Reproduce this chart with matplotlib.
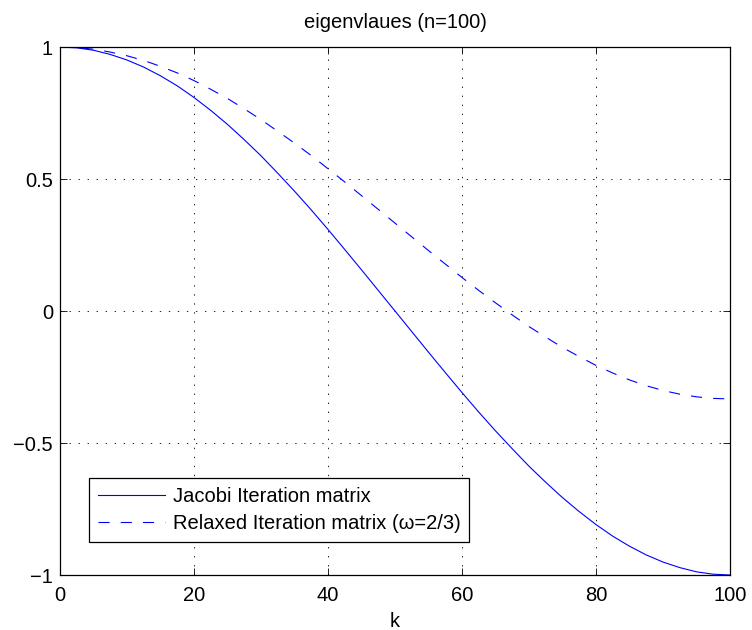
import matplotlib
matplotlib.use("Agg")
import matplotlib.pyplot as plt

# k values and eigenvalues
k = [0, 2.5, 5, 7.5, 10, 12.5, 15, 17.5, 20, 22.5, 25, 27.5, 30, 32.5, 35, 37.5, 40,
     42.5, 45, 47.5, 50, 52.5, 55, 57.5, 60, 62.5, 65, 67.5, 70, 72.5, 75, 77.5, 80,
     82.5, 85, 87.5, 90, 92.5, 95, 97.5, 100]
jacobi = [1.000, 0.997, 0.988, 0.972, 0.951, 0.924, 0.891, 0.853, 0.809, 0.760, 0.707,
          0.649, 0.588, 0.522, 0.454, 0.383, 0.309, 0.233, 0.156, 0.078, 0.000,
          -0.078, -0.156, -0.233, -0.309, -0.383, -0.454, -0.522, -0.588, -0.649, -0.707,
          -0.760, -0.809, -0.853, -0.891, -0.924, -0.951, -0.972, -0.988, -0.997, -1.000]
relaxed = [1.000, 0.998, 0.992, 0.981, 0.967, 0.949, 0.927, 0.902, 0.873, 0.840, 0.805,
           0.766, 0.725, 0.681, 0.636, 0.589, 0.539, 0.489, 0.437, 0.385, 0.333,
           0.281, 0.229, 0.178, 0.127, 0.078, 0.031, -0.015, -0.059, -0.099, -0.138,
           -0.173, -0.206, -0.235, -0.261, -0.283, -0.301, -0.315, -0.325, -0.331, -0.333]

xticks = [0, 20, 40, 60, 80, 100]
yticks = [-1, -0.5, 0, 0.5, 1]
ytick_labels = ['\u22121', '\u22120.5', '0', '0.5', '1']

plt.rcParams['font.family'] = ['Liberation Sans', 'DejaVu Sans']
plt.rcParams['lines.scale_dashes'] = False
FS = 14.5

fig = plt.figure(figsize=(7.52, 6.30), dpi=100)
ax = fig.add_axes([0.0798, 0.0873, 0.891, 0.838])

ax.plot(k, jacobi, color=(0, 0, 1), lw=0.8, label='Jacobi Iteration matrix')
ax.plot(k, relaxed, color=(0, 0, 1), lw=0.8, linestyle=(0, (8, 8)),
        label='Relaxed Iteration matrix (\u03c9=2/3)')

ax.set_xlim(0, 100)
ax.set_ylim(-1, 1)
ax.set_xticks(xticks)
ax.set_yticks(yticks)
ax.set_yticklabels(ytick_labels)
ax.tick_params(direction='in', length=5, width=0.6, top=True, right=True,
               labelsize=FS)
ax.tick_params(axis='x', pad=8)
ax.tick_params(axis='y', pad=5)
ax.grid(True, color='black', linestyle=(0, (1, 5.5)), linewidth=0.6)
for s in ax.spines.values():
    s.set_linewidth(0.9)

ax.set_title('eigenvlaues (n=100)', fontsize=FS, pad=14)
ax.set_xlabel('k', fontsize=FS, labelpad=5)

leg = ax.legend(loc='upper left', bbox_to_anchor=(0.0433, 0.1837), borderaxespad=0,
                fontsize=FS, handlelength=3.3, handletextpad=0.4, borderpad=0.45,
                labelspacing=0.4, fancybox=False, framealpha=1, edgecolor='black')
leg.get_frame().set_linewidth(0.9)

fig.savefig('out.png', dpi=100)
